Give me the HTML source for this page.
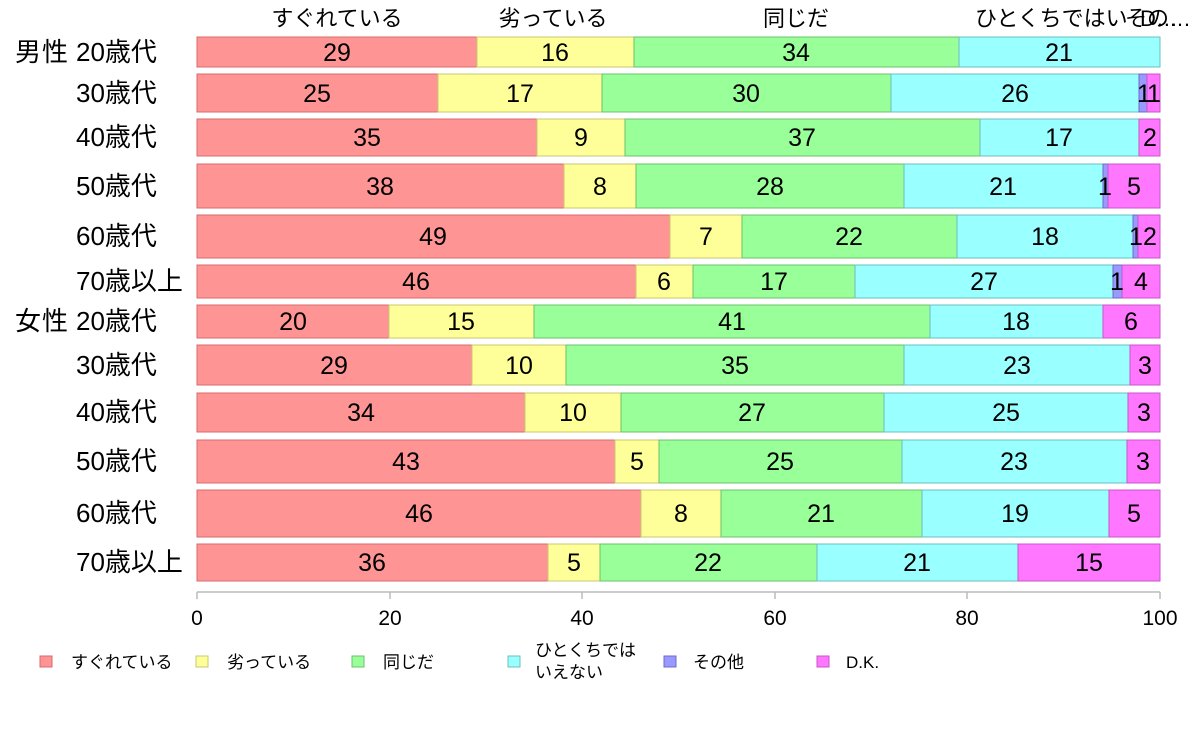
<!DOCTYPE html>
<html><head><meta charset="utf-8"><style>
body{margin:0;background:#fff}
svg{display:block;font-family:"Liberation Sans","Noto Sans CJK JP",sans-serif}
.n{font-size:25px;text-anchor:middle}
.l{font-size:26px}
.r{stroke-width:1}
.a{fill:#FF9494;stroke:#D86A6A}.b{fill:#FFFF99;stroke:#C8C870}.c{fill:#99FF99;stroke:#6CC06C}
.d{fill:#99FFFF;stroke:#6CBFBF}.e{fill:#9999FF;stroke:#6C6CC8}.f{fill:#FF77FF;stroke:#C855C8}
</style></head><body>
<svg width="1188" height="736" viewBox="0 0 1188 736">
<g font-size="22">
<text x="337" y="26" text-anchor="middle">すぐれている</text>
<text x="553" y="26" text-anchor="middle">劣っている</text>
<text x="796" y="26" text-anchor="middle">同じだ</text>
<text x="975" y="26">ひとくちではい</text>
<text x="1125" y="26">その…</text>
<text x="1140" y="26">D…</text>
</g>
<g class="r">
<rect class="a" x="197" y="37" width="280" height="30"/><rect class="b" x="477" y="37" width="157" height="30"/><rect class="c" x="634" y="37" width="325" height="30"/><rect class="d" x="959" y="37" width="201" height="30"/>
<rect class="a" x="197" y="74" width="241" height="38"/><rect class="b" x="438" y="74" width="164" height="38"/><rect class="c" x="602" y="74" width="289" height="38"/><rect class="d" x="891" y="74" width="248" height="38"/><rect class="e" x="1139" y="74" width="8" height="38"/><rect class="f" x="1147" y="74" width="13" height="38"/>
<rect class="a" x="197" y="119" width="340" height="37"/><rect class="b" x="537" y="119" width="88" height="37"/><rect class="c" x="625" y="119" width="355" height="37"/><rect class="d" x="980" y="119" width="159" height="37"/><rect class="f" x="1139" y="119" width="21" height="37"/>
<rect class="a" x="197" y="164" width="367" height="44"/><rect class="b" x="564" y="164" width="72" height="44"/><rect class="c" x="636" y="164" width="268" height="44"/><rect class="d" x="904" y="164" width="199" height="44"/><rect class="e" x="1103" y="164" width="5" height="44"/><rect class="f" x="1108" y="164" width="52" height="44"/>
<rect class="a" x="197" y="215" width="473" height="43"/><rect class="b" x="670" y="215" width="72" height="43"/><rect class="c" x="742" y="215" width="215" height="43"/><rect class="d" x="957" y="215" width="176" height="43"/><rect class="e" x="1133" y="215" width="5" height="43"/><rect class="f" x="1138" y="215" width="22" height="43"/>
<rect class="a" x="197" y="265" width="439" height="33"/><rect class="b" x="636" y="265" width="57" height="33"/><rect class="c" x="693" y="265" width="162" height="33"/><rect class="d" x="855" y="265" width="258" height="33"/><rect class="e" x="1113" y="265" width="9" height="33"/><rect class="f" x="1122" y="265" width="38" height="33"/>
<rect class="a" x="197" y="305" width="192" height="33"/><rect class="b" x="389" y="305" width="145" height="33"/><rect class="c" x="534" y="305" width="396" height="33"/><rect class="d" x="930" y="305" width="173" height="33"/><rect class="f" x="1103" y="305" width="57" height="33"/>
<rect class="a" x="197" y="345" width="275" height="40"/><rect class="b" x="472" y="345" width="94" height="40"/><rect class="c" x="566" y="345" width="338" height="40"/><rect class="d" x="904" y="345" width="226" height="40"/><rect class="f" x="1130" y="345" width="30" height="40"/>
<rect class="a" x="197" y="393" width="328" height="39"/><rect class="b" x="525" y="393" width="96" height="39"/><rect class="c" x="621" y="393" width="263" height="39"/><rect class="d" x="884" y="393" width="244" height="39"/><rect class="f" x="1128" y="393" width="32" height="39"/>
<rect class="a" x="197" y="440" width="418" height="43"/><rect class="b" x="615" y="440" width="44" height="43"/><rect class="c" x="659" y="440" width="243" height="43"/><rect class="d" x="902" y="440" width="225" height="43"/><rect class="f" x="1127" y="440" width="33" height="43"/>
<rect class="a" x="197" y="490" width="444" height="47"/><rect class="b" x="641" y="490" width="80" height="47"/><rect class="c" x="721" y="490" width="201" height="47"/><rect class="d" x="922" y="490" width="187" height="47"/><rect class="f" x="1109" y="490" width="51" height="47"/>
<rect class="a" x="197" y="544" width="351" height="37"/><rect class="b" x="548" y="544" width="52" height="37"/><rect class="c" x="600" y="544" width="217" height="37"/><rect class="d" x="817" y="544" width="201" height="37"/><rect class="f" x="1018" y="544" width="142" height="37"/>
</g>
<g class="n">
<text x="337" y="61">29</text><text x="555" y="61">16</text><text x="796" y="61">34</text><text x="1059" y="61">21</text>
<text x="317" y="102">25</text><text x="520" y="102">17</text><text x="746" y="102">30</text><text x="1015" y="102">26</text><text x="1144" y="102">1</text><text x="1154" y="102">1</text>
<text x="367" y="146">35</text><text x="581" y="146">9</text><text x="802" y="146">37</text><text x="1059" y="146">17</text><text x="1150" y="146">2</text>
<text x="380" y="195">38</text><text x="600" y="195">8</text><text x="770" y="195">28</text><text x="1003" y="195">21</text><text x="1105" y="195">1</text><text x="1134" y="195">5</text>
<text x="433" y="245">49</text><text x="706" y="245">7</text><text x="849" y="245">22</text><text x="1045" y="245">18</text><text x="1136" y="245">1</text><text x="1150" y="245">2</text>
<text x="416" y="290">46</text><text x="664" y="290">6</text><text x="774" y="290">17</text><text x="984" y="290">27</text><text x="1117" y="290">1</text><text x="1141" y="290">4</text>
<text x="293" y="330">20</text><text x="461" y="330">15</text><text x="732" y="330">41</text><text x="1016" y="330">18</text><text x="1131" y="330">6</text>
<text x="334" y="374">29</text><text x="519" y="374">10</text><text x="735" y="374">35</text><text x="1017" y="374">23</text><text x="1145" y="374">3</text>
<text x="361" y="421">34</text><text x="573" y="421">10</text><text x="752" y="421">27</text><text x="1006" y="421">25</text><text x="1144" y="421">3</text>
<text x="406" y="470">43</text><text x="637" y="470">5</text><text x="780" y="470">25</text><text x="1014" y="470">23</text><text x="1143" y="470">3</text>
<text x="419" y="522">46</text><text x="681" y="522">8</text><text x="821" y="522">21</text><text x="1015" y="522">19</text><text x="1134" y="522">5</text>
<text x="372" y="571">36</text><text x="574" y="571">5</text><text x="708" y="571">22</text><text x="917" y="571">21</text><text x="1089" y="571">15</text>
</g>
<g class="l">
<text x="76" y="61">20歳代</text><text x="76" y="102">30歳代</text><text x="76" y="146">40歳代</text><text x="76" y="195">50歳代</text><text x="76" y="245">60歳代</text><text x="76" y="290">70歳以上</text>
<text x="76" y="330">20歳代</text><text x="76" y="374">30歳代</text><text x="76" y="421">40歳代</text><text x="76" y="470">50歳代</text><text x="76" y="522">60歳代</text><text x="76" y="571">70歳以上</text>
<text x="15" y="61" letter-spacing="1">男性</text>
<text x="15" y="330" letter-spacing="1">女性</text>
</g>
<g stroke="#bbb" stroke-width="1.5">
<line x1="197" y1="592" x2="1160" y2="592"/>
<line x1="197" y1="592" x2="197" y2="599"/><line x1="390" y1="592" x2="390" y2="599"/><line x1="582" y1="592" x2="582" y2="599"/><line x1="775" y1="592" x2="775" y2="599"/><line x1="967" y1="592" x2="967" y2="599"/><line x1="1160" y1="592" x2="1160" y2="599"/>
</g>
<g font-size="21" text-anchor="middle">
<text x="197" y="625">0</text><text x="390" y="625">20</text><text x="582" y="625">40</text><text x="775" y="625">60</text><text x="967" y="625">80</text><text x="1160" y="625">100</text>
</g>
<g class="r">
<rect class="a" x="40" y="656" width="12" height="11"/>
<rect class="b" x="196" y="656" width="12" height="11"/>
<rect class="c" x="352" y="656" width="12" height="11"/>
<rect class="d" x="508" y="656" width="12" height="11"/>
<rect class="e" x="664" y="656" width="12" height="11"/>
<rect class="f" x="817" y="656" width="12" height="11"/>
</g>
<g font-size="17">
<text x="71" y="668">すぐれている</text>
<text x="227" y="668">劣っている</text>
<text x="383" y="668">同じだ</text>
<text x="535" y="656">ひとくちでは</text>
<text x="535" y="678">いえない</text>
<text x="693" y="668">その他</text>
<text x="846" y="668">D.K.</text>
</g>
</svg>
</body></html>
